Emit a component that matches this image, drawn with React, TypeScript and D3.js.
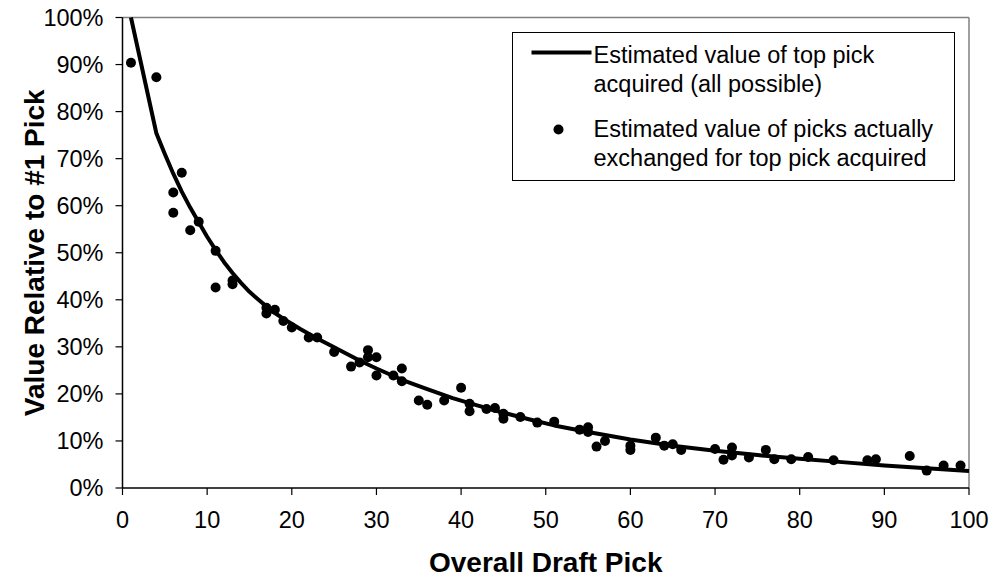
import React from "react";
import * as d3 from "d3";

const curvePicks = [1, 4, 5, 6, 7, 8, 9, 10, 11, 12, 13, 14, 15, 16, 17, 18, 19, 21, 23, 25, 28, 30, 33, 36, 39, 42, 45, 48, 51, 55, 60, 65, 70, 75, 80, 85, 90, 95, 100];
const curveValues = [100, 75.4, 71, 66.8, 63, 59.6, 56.5, 53.4, 50.6, 48, 45.7, 43.6, 41.7, 40.1, 38.6, 37.2, 36, 33.8, 31.8, 29.9, 27.1, 25.4, 23.0, 21.0, 19.1, 17.5, 16.0, 14.6, 13.3, 11.9, 10.3, 9.0, 7.9, 7.0, 6.2, 5.5, 4.8, 4.2, 3.6];

const tradePicks = [1, 4, 6, 6, 7, 8, 9, 11, 11, 13, 13, 17, 17, 18, 19, 20, 22, 23, 25, 27, 28, 29, 29, 30, 30, 32, 33, 33, 35, 36, 38, 40, 41, 41, 43, 44, 45, 45, 47, 49, 51, 54, 55, 55, 56, 57, 60, 60, 63, 64, 65, 66, 70, 71, 72, 72, 74, 76, 77, 79, 81, 84, 88, 89, 93, 95, 97, 99];
const tradeValues = [90.4, 87.3, 62.8, 58.5, 67, 54.8, 56.6, 50.4, 42.6, 44.1, 43.3, 38.3, 37.1, 37.9, 35.5, 34.1, 32, 32, 28.9, 25.8, 26.7, 29.3, 27.8, 27.8, 23.9, 23.9, 25.4, 22.7, 18.6, 17.7, 18.6, 21.3, 17.9, 16.3, 16.8, 17, 15.8, 14.7, 15.1, 13.9, 14.1, 12.4, 12.9, 11.9, 8.8, 10, 9, 8.1, 10.7, 9, 9.3, 8.1, 8.3, 6, 8.6, 6.9, 6.5, 8.1, 6.1, 6.1, 6.6, 5.9, 5.9, 6.1, 6.8, 3.7, 4.8, 4.8];

const xTicks = [0, 10, 20, 30, 40, 50, 60, 70, 80, 90, 100];
const yTicks = [0, 10, 20, 30, 40, 50, 60, 70, 80, 90, 100];

const legendLine1 = ["Estimated value of top pick", "acquired (all possible)"];
const legendLine2 = ["Estimated value of picks actually", "exchanged for top pick acquired"];

const W = 992;
const H = 580;
const left = 122.5;
const right = 969;
const top = 17.5;
const bottom = 488;
const font = "Arial, 'Liberation Sans', Helvetica, sans-serif";

export default function App() {
  const x = d3.scaleLinear().domain([0, 100]).range([left, right]);
  const y = d3.scaleLinear().domain([0, 100]).range([bottom, top]);
  const line = d3
    .line<number>()
    .x((_, i) => x(curvePicks[i]))
    .y((d) => y(d))
    .curve(d3.curveLinear);

  const lx = 512.5;
  const ly = 32.5;
  return (
    <svg width={W} height={H} style={{ position: "absolute", left: 0, top: 0, background: "#fff" }} fontFamily={font}>
      <rect x={0} y={0} width={W} height={H} fill="#fff" />
      <line x1={left} x2={right} y1={top} y2={top} stroke="#808080" strokeWidth={1.5} />
      <line x1={right} x2={right} y1={top} y2={bottom} stroke="#808080" strokeWidth={1.5} />
      <defs>
        <clipPath id="clip">
          <rect x={left} y={top - 2} width={right - left} height={bottom - top + 2} />
        </clipPath>
      </defs>
      <path d={line(curveValues) || ""} fill="none" stroke="#000" strokeWidth={4} strokeLinejoin="round" clipPath="url(#clip)" />
      {tradePicks.map((p, i) => (
        <circle key={i} cx={x(p)} cy={y(tradeValues[i])} r={5} fill="#000" />
      ))}
      <line x1={left} x2={left} y1={top} y2={bottom} stroke="#000" strokeWidth={1.5} />
      <line x1={left} x2={right} y1={bottom} y2={bottom} stroke="#000" strokeWidth={1.5} />
      {yTicks.map((t) => (
        <g key={"y" + t}>
          <line x1={left - 7} x2={left} y1={y(t)} y2={y(t)} stroke="#000" strokeWidth={1.2} />
          <text x={left - 19} y={y(t)} dy="0.35em" textAnchor="end" fontSize={23.5} fill="#000">
            {t + "%"}
          </text>
        </g>
      ))}
      {xTicks.map((t) => (
        <g key={"x" + t}>
          <line x1={x(t)} x2={x(t)} y1={bottom} y2={bottom + 7} stroke="#000" strokeWidth={1.2} />
          <text x={x(t)} y={528} textAnchor="middle" fontSize={23.5} fill="#000">
            {t}
          </text>
        </g>
      ))}
      <text x={(left + right) / 2} y={572} textAnchor="middle" fontSize={28} fontWeight="bold">
        Overall Draft Pick
      </text>
      <text
        transform={`translate(44, ${(top + bottom) / 2}) rotate(-90)`}
        textAnchor="middle"
        fontSize={28}
        fontWeight="bold"
      >
        Value Relative to #1 Pick
      </text>
      <rect x={lx} y={ly} width={442} height={148} fill="#fff" stroke="#000" strokeWidth={1} />
      <line x1={lx + 19} x2={lx + 79} y1={ly + 20} y2={ly + 20} stroke="#000" strokeWidth={4} />
      {legendLine1.map((s, i) => (
        <text key={"a" + i} x={lx + 81} y={ly + 30 + i * 29} fontSize={23.5}>
          {s}
        </text>
      ))}
      <circle cx={lx + 46} cy={ly + 97} r={5} fill="#000" />
      {legendLine2.map((s, i) => (
        <text key={"b" + i} x={lx + 81} y={ly + 104 + i * 29} fontSize={23.5}>
          {s}
        </text>
      ))}
    </svg>
  );
}
